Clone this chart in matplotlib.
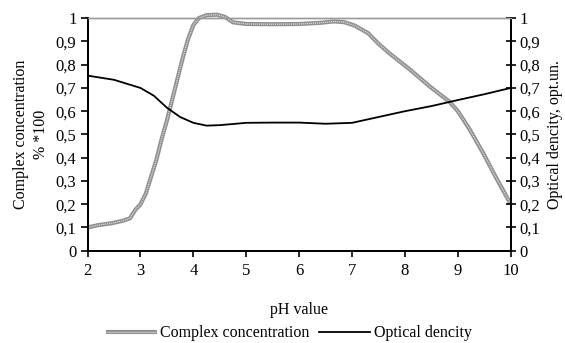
import matplotlib
matplotlib.use('Agg')
import matplotlib.pyplot as plt
from matplotlib.ticker import FuncFormatter
from matplotlib.legend_handler import HandlerTuple

plt.rcParams['font.family'] = ['Liberation Serif', 'DejaVu Serif']
plt.rcParams['font.size'] = 11.5

# complex concentration vs pH (left axis)
ph_complex = [2.0, 2.2, 2.45, 2.65, 2.8, 2.9, 3.0, 3.1, 3.2, 3.3, 3.4, 3.5, 3.6,
              3.7, 3.8, 3.9, 4.0, 4.1, 4.25, 4.45, 4.6, 4.75, 5.0, 5.5, 6.0,
              6.4, 6.65, 6.85, 7.05, 7.3, 7.5, 7.7, 8.1, 8.47, 8.84, 9.0,
              9.23, 9.48, 9.73, 10.0]
complex_conc = [0.10, 0.11, 0.118, 0.128, 0.139, 0.175, 0.20, 0.245, 0.318, 0.39,
                0.48, 0.56, 0.65, 0.74, 0.83, 0.91, 0.97, 1.0, 1.013, 1.015,
                1.005, 0.982, 0.975, 0.974, 0.975, 0.98, 0.986, 0.983, 0.968,
                0.936, 0.89, 0.85, 0.778, 0.706, 0.641, 0.60, 0.519, 0.419,
                0.311, 0.20]

# optical density vs pH (right axis)
ph_optical = [2.0, 2.5, 3.0, 3.25, 3.5, 3.75, 4.0, 4.25, 4.5, 5.0, 5.5, 6.0,
              6.5, 7.0, 7.5, 8.0, 8.5, 9.0, 9.5, 10.0]
optical = [0.753, 0.735, 0.70, 0.667, 0.615, 0.575, 0.55, 0.538, 0.54, 0.55,
           0.551, 0.551, 0.546, 0.55, 0.575, 0.60, 0.622, 0.648, 0.673, 0.70]

x_ticks = [2, 3, 4, 5, 6, 7, 8, 9, 10]
y_ticks = [0, 0.1, 0.2, 0.3, 0.4, 0.5, 0.6, 0.7, 0.8, 0.9, 1.0]


def comma_fmt(v, pos):
    s = ('%.1f' % v).rstrip('0').rstrip('.')
    return s.replace('.', ',')


fig = plt.figure(figsize=(5.65, 3.43), dpi=100)
ax = fig.add_axes([0.155, 0.269, 0.749, 0.678])
ax2 = ax.twinx()

# hatched-looking grey line: grey body with a light dotted core
g1, = ax.plot(ph_complex, complex_conc, color='#8f8f8f', lw=3.0,
              solid_capstyle='butt', zorder=3, clip_on=False)
g2, = ax.plot(ph_complex, complex_conc, color='#e8e8e8', lw=0.9,
              dashes=(0.8, 0.8), zorder=4, clip_on=False)
b1, = ax2.plot(ph_optical, optical, color='black', lw=1.3)

for a in (ax, ax2):
    a.set_xlim(2, 10)
    a.set_ylim(0, 1)
    a.set_yticks(y_ticks)
    a.yaxis.set_major_formatter(FuncFormatter(comma_fmt))
    a.spines['top'].set_color('#9a9a9a')
    a.spines['top'].set_linewidth(1.0)
    for s in ('left', 'right', 'bottom'):
        a.spines[s].set_linewidth(1.3)

ax.set_xticks(x_ticks)
ax.tick_params(axis='x', direction='out', length=4.5, width=1.2, pad=4,
               labelsize=12)
ax.tick_params(axis='y', direction='out', length=5, width=1.2, pad=3,
               labelsize=12)
ax2.tick_params(axis='y', direction='inout', length=7, width=1.2, pad=3,
                labelsize=12)

ax.set_xlabel('pH value', labelpad=17)
ax.set_ylabel('Complex concentration\n% *100', linespacing=1.35, labelpad=5)
ax2.set_ylabel('Optical dencity, opt.un.', labelpad=5)

fig.legend([(g1, g2), b1], ['Complex concentration', 'Optical dencity'],
           loc='center', bbox_to_anchor=(0.511, 0.028), ncol=2, frameon=False,
           handlelength=3.2, handletextpad=0.2, columnspacing=0.6,
           borderpad=0.1, handler_map={tuple: HandlerTuple(ndivide=1)})

fig.savefig('out.png', dpi=100)
